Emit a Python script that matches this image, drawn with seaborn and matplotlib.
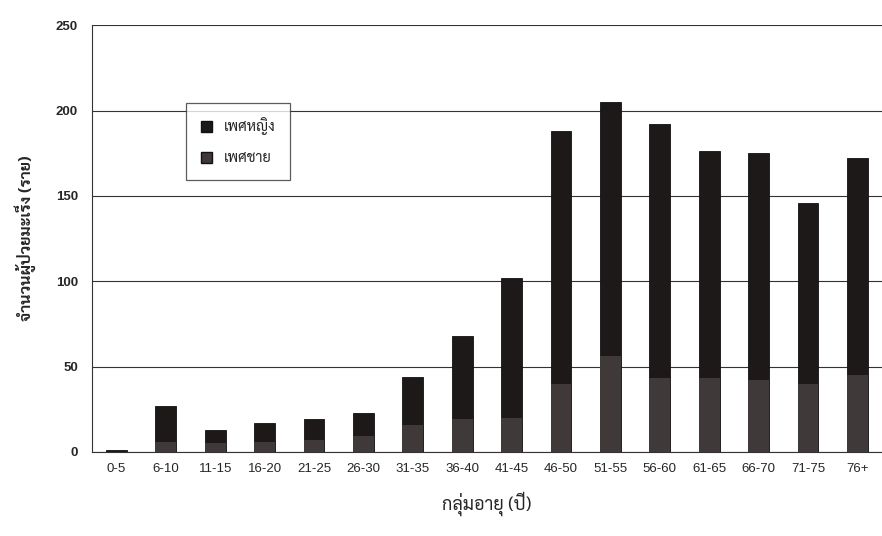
import matplotlib
matplotlib.use("Agg")
import matplotlib.pyplot as plt
from matplotlib.patches import Patch
import seaborn as sns
import numpy as np
import pandas as pd

# ข้อมูล (อ่านค่าจากกราฟ)
age_groups = ["0-5", "6-10", "11-15", "16-20", "21-25", "26-30", "31-35", "36-40",
              "41-45", "46-50", "51-55", "56-60", "61-65", "66-70", "71-75", "76+"]
male = [0, 6, 5, 6, 7, 9, 16, 19, 20, 40, 56, 43, 43, 42, 40, 45]
female = [1, 21, 8, 11, 12, 14, 28, 49, 82, 148, 149, 149, 133, 133, 106, 127]
y_ticks = [0, 50, 100, 150, 200, 250]

df = pd.DataFrame({"age": age_groups, "male": male, "female": female})
df["total"] = df["male"] + df["female"]

sns.set_style("white")
thai = ["Sarabun", "Noto Sans Thai", "Athiti", "DejaVu Sans"]
latin = ["Liberation Sans", "DejaVu Sans"]
plt.rcParams["font.family"] = latin

c_female = "#1d1817"
c_male = "#403838"

fig = plt.figure(figsize=(8.82, 5.36), dpi=100)
ax = fig.add_axes([0.104, 0.157, 0.896, 0.796])

# แท่งซ้อน: รวม (หญิง) แล้วทับด้วยชาย
sns.barplot(data=df, x="age", y="total", color=c_female, width=0.42,
            edgecolor="#111111", linewidth=0.6, ax=ax, zorder=3)
sns.barplot(data=df, x="age", y="male", color=c_male, width=0.42,
            edgecolor="none", ax=ax, zorder=4)

ax.set_ylim(0, 250)
ax.set_xlim(-0.5, 15.38)
ax.set_yticks(y_ticks)
ax.set_yticklabels([str(v) for v in y_ticks], fontsize=9.5, fontweight="bold")
ax.tick_params(axis="y", length=4, width=0.8, color="#333333", pad=6)
ax.tick_params(axis="x", which="major", length=0, labelsize=9.5, pad=8)
ax.set_xticks(np.arange(len(age_groups)) + 0.5, minor=True)
ax.tick_params(axis="x", which="minor", length=3, width=0.8, color="#333333")

ax.yaxis.grid(True, color="#333333", linewidth=0.8)
ax.set_axisbelow(True)
for s in ["top", "right"]:
    ax.spines[s].set_visible(False)
ax.spines["left"].set_color("#333333")
ax.spines["bottom"].set_color("#333333")

ax.set_xlabel("กลุ่มอายุ (ปี)", fontsize=13, family=thai, labelpad=12)
ax.set_ylabel("จำนวนผู้ป่วยมะเร็ง (ราย)", fontsize=11.5, family=thai,
              fontweight="bold", labelpad=14)

handles = [Patch(facecolor=c_female, edgecolor="#111111"),
           Patch(facecolor=c_male, edgecolor="#111111")]
leg = ax.legend(handles, ["เพศหญิง", "เพศชาย"], loc="upper left",
                bbox_to_anchor=(0.11, 0.835), frameon=True, fancybox=False,
                edgecolor="#333333", prop={"family": thai, "size": 10.5},
                handlelength=0.8, handleheight=0.8, labelspacing=1.1,
                borderpad=1.0, handletextpad=0.8)
leg.get_frame().set_linewidth(0.9)

fig.savefig("out.png", dpi=100)
